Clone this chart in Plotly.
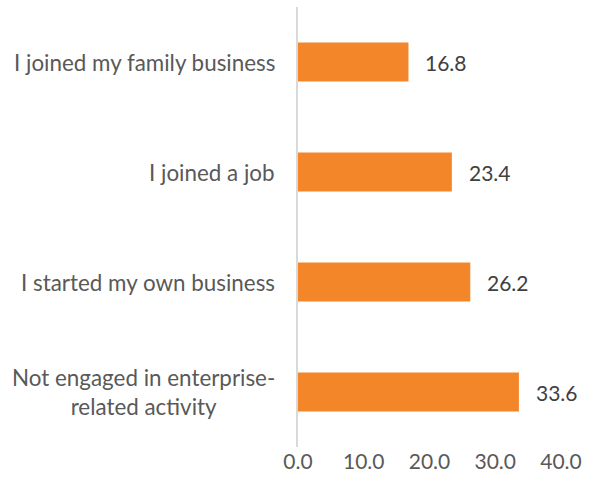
import plotly.graph_objects as go

# Survey responses (percent), listed top to bottom
categories = [
    "I joined my family business",
    "I joined a job",
    "I started my own business",
    "Not engaged in enterprise-<br>related activity",
]
values = [16.8, 23.4, 26.2, 33.6]
x_ticks = [0, 10, 20, 30, 40]

BAR_COLOR = "#F4862A"
FONT = "Lato"

fig = go.Figure(
    go.Bar(
        y=categories,
        x=values,
        orientation="h",
        marker=dict(color=BAR_COLOR, line=dict(width=0)),
        width=0.355,
        hoverinfo="skip",
    )
)

# Value labels to the right of each bar
for cat, val in zip(categories, values):
    fig.add_annotation(
        x=val, y=cat, xref="x", yref="y",
        text=f"{val:.1f}", showarrow=False,
        xanchor="left", xshift=15,
        font=dict(family=FONT, size=21, color="#404040"),
    )

# Category labels, lines centred within each label
for cat in categories:
    fig.add_annotation(
        x=0, y=cat, xref="paper", yref="y",
        text=cat, showarrow=False, align="center",
        xanchor="right", xshift=-21,
        font=dict(family=FONT, size=22.4, color="#595959"),
    )

fig.update_layout(
    width=589, height=486,
    margin=dict(l=298, r=25, t=7, b=39),
    paper_bgcolor="white", plot_bgcolor="white",
    showlegend=False,
    bargap=0.645,
    xaxis=dict(
        range=[0, 40], tickvals=x_ticks, tickformat=".1f",
        showgrid=False, zeroline=False, showline=False, ticks="",
        tickfont=dict(family=FONT, size=21, color="#595959"),
        fixedrange=True,
    ),
    yaxis=dict(
        categoryorder="array", categoryarray=categories[::-1],
        showticklabels=False, showgrid=False, zeroline=False,
        showline=True, linecolor="#D9D9D9", linewidth=1.5, ticks="",
        fixedrange=True,
    ),
)

fig.write_html("out.html")
